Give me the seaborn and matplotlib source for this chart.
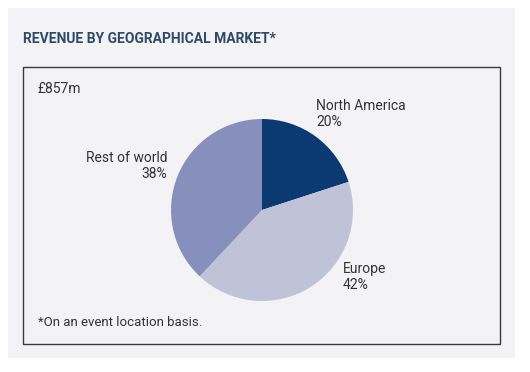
import matplotlib
matplotlib.use("Agg")
import matplotlib.pyplot as plt
from matplotlib.patches import Rectangle
import seaborn as sns

# Data
categories = ["North America", "Europe", "Rest of world"]
shares = [20, 42, 38]
colors = ["#0b3a73", "#c0c2d8", "#8790bc"]
total_label = "£857m"
title = "REVENUE BY GEOGRAPHICAL MARKET*"
footnote = "*On an event location basis."

sns.set_style("white")
plt.rcParams["font.family"] = ["Roboto", "DejaVu Sans"]

W, H = 530, 372
fig = plt.figure(figsize=(W / 100, H / 100), dpi=100)
fig.patch.set_facecolor("white")

def fx(px):
    return px / W

def fy(py):
    return 1 - py / H

bg = "#f3f2f5"
# outer panel
fig.patches.append(Rectangle((fx(8), fy(358)), fx(515) - fx(8), fy(8) - fy(358),
                             transform=fig.transFigure, facecolor=bg, edgecolor="none", zorder=-3))
# inner box
fig.patches.append(Rectangle((fx(23), fy(344)), fx(500) - fx(23), fy(67) - fy(344),
                             transform=fig.transFigure, facecolor=bg, edgecolor="#3a3a3a",
                             linewidth=1.0, zorder=-2))

# pie axes: center (262,210), radius 91 px
cx, cy, r = 262, 210, 91
ax = fig.add_axes([fx(cx - r), fy(cy + r), (2 * r) / W, (2 * r) / H])
ax.set_zorder(5)
ax.patch.set_alpha(0)
pal = sns.color_palette(colors)
ax.pie(shares, colors=pal, startangle=90, counterclock=False,
       wedgeprops=dict(linewidth=0))
ax.set_xlim(-1, 1)
ax.set_ylim(-1, 1)
ax.set_aspect("equal")
ax.axis("off")

txt = "#333333"
fs = 10
fig.text(fx(23), fy(32), title, fontsize=10, fontweight="bold", color="#2d4a6b",
         va="top", ha="left")
fig.text(fx(37), fy(82), total_label, fontsize=fs, color=txt, va="top", ha="left")

label_pos = {
    "North America": (316, 99, "left"),
    "Europe": (343, 262, "left"),
    "Rest of world": (167, 151, "right"),
}
for cat, val in zip(categories, shares):
    x, y, ha = label_pos[cat]
    fig.text(fx(x), fy(y), f"{cat}\n{val}%", fontsize=fs, color=txt, va="top", ha=ha,
             linespacing=1.2, multialignment=ha)

fig.text(fx(38), fy(316), footnote, fontsize=9.5, color=txt, va="top", ha="left")

fig.savefig("out.png", dpi=100, facecolor="white")
